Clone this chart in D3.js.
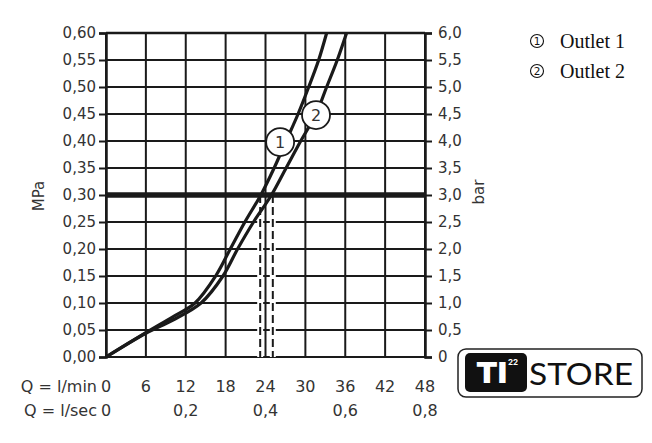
<!DOCTYPE html>
<html>
<head>
<meta charset="utf-8">
<script src="https://cdn.jsdelivr.net/npm/d3@7/dist/d3.min.js"></script>
<style>
  html, body { margin: 0; padding: 0; background: #fff; }
  svg { display: block; }
</style>
</head>
<body>
<script>
// ---- data ----
const qTicks = [0, 6, 12, 18, 24, 30, 36, 42, 48];            // l/min
const lsecTicks = [0, 0.2, 0.4, 0.6, 0.8];                    // l/sec
const mpaTicks = [0, 0.05, 0.10, 0.15, 0.20, 0.25, 0.30, 0.35, 0.40, 0.45, 0.50, 0.55, 0.60];
const barTicks = [0, 0.5, 1.0, 1.5, 2.0, 2.5, 3.0, 3.5, 4.0, 4.5, 5.0, 5.5, 6.0];

const outlet1Q = [0, 6, 10, 13.4, 16.5, 18.7, 20.9, 23.3, 25.3, 27.1, 28.9, 30.5, 32.0, 33.2];
const outlet1P = [0, 0.045, 0.074, 0.10, 0.15, 0.20, 0.25, 0.30, 0.35, 0.40, 0.45, 0.50, 0.55, 0.60];
const outlet2Q = [0, 6, 10, 14.3, 17.6, 19.8, 22.2, 24.9, 27.1, 29.3, 31.6, 33.2, 34.8, 36.2];
const outlet2P = [0, 0.044, 0.068, 0.10, 0.15, 0.20, 0.25, 0.30, 0.35, 0.40, 0.45, 0.50, 0.55, 0.60];

const refPressure = 0.30;
const dropQ = [23.2, 25.1];
const markerNames = ["1", "2"];
const markerQ = [26.2, 31.6];
const markerP = [0.398, 0.448];
const legendLabels = ["Outlet 1", "Outlet 2"];

// ---- layout ----
const W = 652, H = 443;
const svg = d3.select("body").append("svg").attr("width", W).attr("height", H);
const x = d3.scaleLinear().domain([0, 48]).range([106, 425]);
const y = d3.scaleLinear().domain([0, 0.6]).range([357, 33]);
const yBar = d3.scaleLinear().domain([0, 6]).range([357, 33]);

const axisFont = "DejaVu Sans, sans-serif";
const ink = "#1a1a1a";
const comma = s => s.replace(".", ",");

// grid
const grid = svg.append("g").attr("stroke", ink).attr("stroke-width", 2);
grid.selectAll("line.v").data(qTicks).join("line")
  .attr("x1", d => x(d)).attr("x2", d => x(d))
  .attr("y1", y(0)).attr("y2", y(0.6));
grid.selectAll("line.h").data(mpaTicks).join("line")
  .attr("x1", x(0)).attr("x2", x(48))
  .attr("y1", d => y(d)).attr("y2", d => y(d));

// left axis
const left = svg.append("g").attr("transform", `translate(${x(0)},0)`)
  .call(d3.axisLeft(y).tickValues(mpaTicks).tickSize(7).tickPadding(3)
    .tickFormat(d => comma(d3.format(".2f")(d))));
left.select(".domain").attr("stroke", ink).attr("stroke-width", 2.5);
left.selectAll(".tick line").attr("stroke", ink).attr("stroke-width", 2);
left.selectAll("text").attr("font-family", axisFont).attr("font-size", 15).attr("fill", "#333");

// right axis
const right = svg.append("g").attr("transform", `translate(${x(48)},0)`)
  .call(d3.axisRight(yBar).tickValues(barTicks).tickSize(7).tickPadding(6)
    .tickFormat(d => d === 0 ? "0" : comma(d3.format(".1f")(d))));
right.select(".domain").attr("stroke", ink).attr("stroke-width", 2.5);
right.selectAll(".tick line").attr("stroke", ink).attr("stroke-width", 2);
right.selectAll("text").attr("font-family", axisFont).attr("font-size", 15).attr("fill", "#333");

// top border
svg.append("line").attr("x1", x(0)).attr("x2", x(48)).attr("y1", y(0.6)).attr("y2", y(0.6))
  .attr("stroke", ink).attr("stroke-width", 2.5);

// axis titles
svg.append("text").attr("transform", `translate(44,196) rotate(-90)`)
  .attr("text-anchor", "middle").attr("font-family", axisFont).attr("font-size", 15).attr("fill", "#333")
  .text("MPa");
svg.append("text").attr("transform", `translate(484,192) rotate(-90)`)
  .attr("text-anchor", "middle").attr("font-family", axisFont).attr("font-size", 15).attr("fill", "#333")
  .text("bar");

// bottom labels
svg.append("text").attr("x", 97).attr("y", 392).attr("text-anchor", "end")
  .attr("font-family", axisFont).attr("font-size", 16).attr("fill", "#333").text("Q = l/min");
svg.append("g").selectAll("text").data(qTicks).join("text")
  .attr("x", d => x(d)).attr("y", 392).attr("text-anchor", "middle")
  .attr("font-family", axisFont).attr("font-size", 16).attr("fill", "#333").text(d => d);
svg.append("text").attr("x", 97).attr("y", 416).attr("text-anchor", "end")
  .attr("font-family", axisFont).attr("font-size", 16).attr("fill", "#333").text("Q = l/sec");
svg.append("g").selectAll("text").data(lsecTicks).join("text")
  .attr("x", d => x(d * 60)).attr("y", 416).attr("text-anchor", "middle")
  .attr("font-family", axisFont).attr("font-size", 16).attr("fill", "#333")
  .text(d => d === 0 ? "0" : comma(d3.format(".1f")(d)));

// dashed drop lines
dropQ.forEach(q => {
  svg.append("line").attr("x1", x(q)).attr("x2", x(q)).attr("y1", y(refPressure)).attr("y2", y(0))
    .attr("stroke", "#fff").attr("stroke-width", 6);
  svg.append("line").attr("x1", x(q)).attr("x2", x(q)).attr("y1", y(refPressure)).attr("y2", y(0))
    .attr("stroke", ink).attr("stroke-width", 2).attr("stroke-dasharray", "8,4");
});

// reference pressure line
svg.append("line").attr("x1", x(0)).attr("x2", x(48))
  .attr("y1", y(refPressure)).attr("y2", y(refPressure))
  .attr("stroke", ink).attr("stroke-width", 5.5);

// curves
const line = d3.line().x(d => x(d[0])).y(d => y(d[1])).curve(d3.curveCatmullRom.alpha(0.5));
[[outlet1Q, outlet1P], [outlet2Q, outlet2P]].forEach(([qs, ps]) => {
  svg.append("path").datum(qs.map((q, i) => [q, ps[i]]))
    .attr("d", line).attr("fill", "none").attr("stroke", ink).attr("stroke-width", 3.2)
    .attr("stroke-linejoin", "round");
});

// curve markers
markerNames.forEach((n, i) => {
  svg.append("circle").attr("cx", x(markerQ[i])).attr("cy", y(markerP[i])).attr("r", 14)
    .attr("fill", "#fff").attr("stroke", ink).attr("stroke-width", 1.8);
  svg.append("text").attr("x", x(markerQ[i])).attr("y", y(markerP[i]) + 6)
    .attr("text-anchor", "middle").attr("font-family", axisFont).attr("font-size", 16).attr("fill", "#333")
    .text(n);
});

// legend
legendLabels.forEach((t, i) => {
  const cy = 41 + i * 30;
  svg.append("circle").attr("cx", 537).attr("cy", cy).attr("r", 6.5)
    .attr("fill", "none").attr("stroke", "#111").attr("stroke-width", 1.1);
  svg.append("text").attr("x", 537).attr("y", cy + 3.8).attr("text-anchor", "middle")
    .attr("font-family", "DejaVu Sans, sans-serif").attr("font-size", 10.5).attr("fill", "#111").text(markerNames[i]);
  svg.append("text").attr("x", 560).attr("y", cy + 6.5)
    .attr("font-family", "Liberation Serif, serif").attr("font-size", 20).attr("fill", "#111").text(t);
});

// logo
const logo = svg.append("g");
logo.append("rect").attr("x", 458).attr("y", 349).attr("width", 184).attr("height", 48).attr("rx", 8)
  .attr("fill", "#fff").attr("stroke", "#222").attr("stroke-width", 1.5);
logo.append("rect").attr("x", 465).attr("y", 353).attr("width", 62).attr("height", 39).attr("rx", 5)
  .attr("fill", "#111");
logo.append("text").attr("x", 476).attr("y", 383).attr("font-family", "Inter, Lato, sans-serif")
  .attr("font-weight", 900).attr("font-size", 29).attr("fill", "#fff")
  .attr("textLength", 31).attr("lengthAdjust", "spacingAndGlyphs").text("TI");
logo.append("text").attr("x", 508).attr("y", 365).attr("font-family", "Inter, Lato, sans-serif")
  .attr("font-weight", 700).attr("font-size", 8).attr("fill", "#fff").text("22");
logo.append("text").attr("x", 529).attr("y", 385).attr("font-family", "Lato, sans-serif")
  .attr("font-size", 31).attr("fill", "#111")
  .attr("textLength", 104).attr("lengthAdjust", "spacingAndGlyphs").text("STORE");
</script>
</body>
</html>
